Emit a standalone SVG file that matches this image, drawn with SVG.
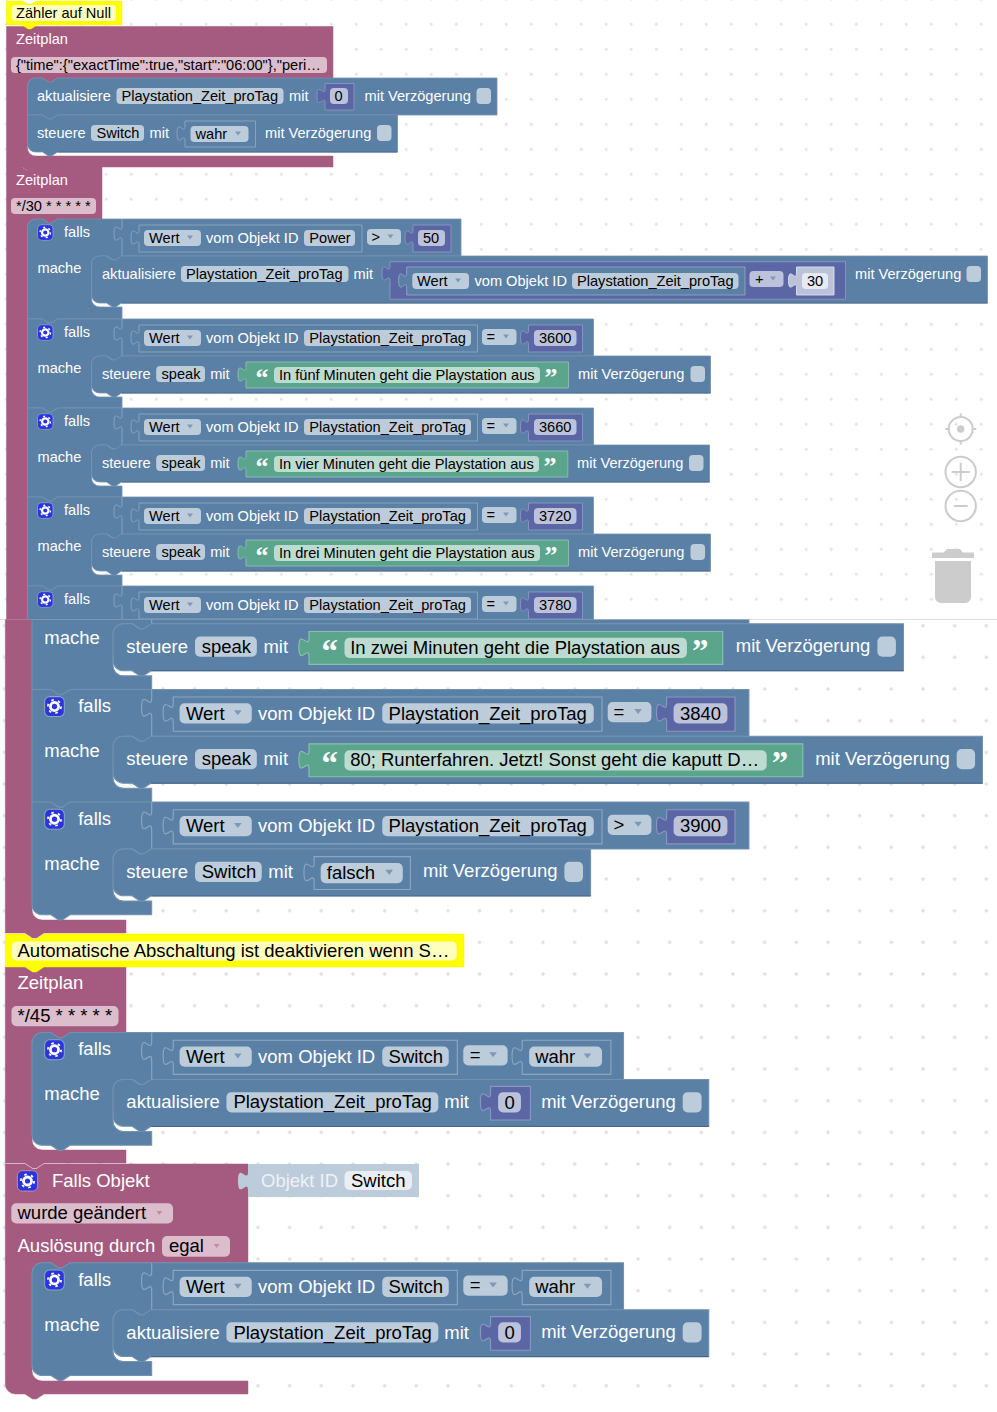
<svg xmlns="http://www.w3.org/2000/svg" width="997" height="1412" viewBox="0 0 997 1412">
<style>
text{font-family:"Liberation Sans",Arial,sans-serif;font-size:14.6px}
.t{fill:#fff}.f{fill:#000}
.b{fill:#5B80A5;stroke:#7391B0;stroke-width:.8}
.bv{fill:#5B80A5;stroke:#8CA6C0;stroke-width:.9}
.ln{fill:none;stroke:#8CA6C0;stroke-width:.9}
.dk{fill:none;stroke:#47668A;stroke-width:1}
.h{fill:#A55B80;stroke:#A55B80;stroke-width:.5}
.n{fill:#5B67A5;stroke:#8C95C0;stroke-width:.9}
.nl{fill:#BDC2DB;stroke:#DDE0ED;stroke-width:.9}
.g{fill:#5BA58C;stroke:#8CC0AE;stroke-width:.9}
.fd{fill:#BDCCDB}.fp{fill:#DBBDCC}.fn{fill:#BDC2DB}.fg{fill:#BDDBD1}.fy{fill:#FFFFBD}.fw{fill:#E8EAF3}
.y{fill:#FFFF00;stroke:#F0F000;stroke-width:.5}
.ar{fill:#7C99B7}.arp{fill:#C08CA6}
.ic{fill:#2B35DE;stroke:#8CA6C0;stroke-width:.8}
.q{font-family:"Liberation Serif",serif;font-weight:bold;font-size:26px;fill:#fff}
.ui{fill:#ccc}.uis{fill:none;stroke:#ccc;stroke-width:2}
</style>
<defs>
<pattern id="g1" patternUnits="userSpaceOnUse" x="4.3" y="22.3" width="25" height="25"><path d="M.5,2h3M2,.5v3" stroke="#d5d5d5" fill="none"/></pattern>
<pattern id="g2" patternUnits="userSpaceOnUse" x="1.6" y="622.7" width="31.67" height="31.67"><path d="M1,3h4M3,1v4" stroke="#d5d5d5" fill="none"/></pattern>
<clipPath id="ct"><rect x="0" y="0" width="997" height="619.5"/></clipPath>
<clipPath id="cb"><rect x="0" y="619.5" width="997" height="793"/></clipPath>
<path id="arr" d="M-3,-2h6l-3,4z"/>
<g id="gear"><rect class="ic" x="10" y="5.7" width="15.5" height="15.7" rx="4"/><circle cx="17.75" cy="13.5" r="5.2" fill="none" stroke="#fff" stroke-width="1.4" stroke-dasharray="2 3.44"/><circle cx="17.75" cy="13.5" r="3.2" fill="none" stroke="#fff" stroke-width="2.2"/></g>
<path id="slot" class="ln" d="M94.5,0V7c0,10 -8,-8 -8,7.5s8,-2.5 8,7.5V37"/>
<path id="fP" class="b" d="M0,0H15l6,4h3l6,-4H566V37H94.5l-6,4h-3l-6,-4H72a8,8 0 0 0 -8,8V70a8,8 0 0 0 8,8H94.5V89H30l-6,4h-3l-6,-4H0Z"/>
<g id="condP">
<use href="#slot"/>
<path class="bv" d="M111.5,6H450V33H111.5V26c0,-10 -8,8 -8,-7.5s8,2.5 8,-7.5Z"/>
<rect class="fd" x="116.5" y="11" width="57" height="16" rx="4"/><use href="#arr" class="ar" x="162.5" y="18.5"/>
<rect class="fd" x="276.5" y="11" width="167" height="16" rx="4"/>
<rect class="fd" x="454.5" y="10" width="34.5" height="16" rx="4"/><use href="#arr" class="ar" x="478.5" y="17.5"/>
<path class="n" d="M501,6H555V33H501V26c0,-10 -8,8 -8,-7.5s8,2.5 8,-7.5Z"/>
<rect class="fn" x="506.5" y="11" width="42.5" height="16" rx="4"/>
</g>
<g id="condS">
<use href="#slot"/>
<path class="bv" d="M111.5,6H335.8V33H111.5V26c0,-10 -8,8 -8,-7.5s8,2.5 8,-7.5Z"/>
<rect class="fd" x="116.5" y="11" width="57" height="16" rx="4"/><use href="#arr" class="ar" x="162.5" y="18.5"/>
<rect class="fd" x="276.5" y="11" width="52.5" height="16" rx="4"/>
<rect class="fd" x="340.5" y="10" width="35" height="16" rx="4"/><use href="#arr" class="ar" x="364" y="17.5"/>
<path class="bv" d="M387,6H457V33H387V26c0,-10 -8,8 -8,-7.5s8,2.5 8,-7.5Z"/>
<rect class="fd" x="392.5" y="11" width="57.5" height="16" rx="4"/><use href="#arr" class="ar" x="438.5" y="18.5"/>
</g>
<g id="aktB">
<path class="b" d="M0,8a8,8 0 0 1 8,-8h7l6,4h3l6,-4H470.3V37H30l-6,4h-3l-6,-4H8a8,8 0 0 1 -8,-8Z"/>
<path class="dk" d="M30,37H470.3"/>
<rect class="fd" x="89.5" y="10" width="167.3" height="16" rx="4"/>
<path class="n" d="M298,5.5H329.5V32H298V25.5c0,-10 -8,8 -8,-7.5s8,2.5 8,-7.5Z"/>
<rect class="fn" x="304" y="10" width="18" height="16" rx="4"/>
<rect class="fd" x="449.7" y="10" width="14.9" height="16" rx="4"/>
</g>
</defs>

<rect width="997" height="620" fill="#fff"/>
<rect width="997" height="619.5" fill="url(#g1)"/>
<rect y="619.5" width="997" height="793" fill="url(#g2)"/>
<path d="M0,619.5H997" stroke="#ddd" stroke-width="1"/>

<g id="workspace-controls">
<circle class="uis" cx="960.7" cy="429" r="12"/><circle class="ui" cx="960.7" cy="429" r="3.7"/><path class="uis" d="M960.7,413.5v4M960.7,440.5v4M945.3,429h4M972.3,429h4"/>
<circle class="uis" cx="960.7" cy="472" r="15.2"/><path class="uis" d="M951.7,472h18M960.7,463v18"/>
<circle class="uis" cx="960.7" cy="506" r="15.2"/><path class="uis" d="M953.7,506h14"/>
<path class="ui" d="M932,552.5h12l3,-3.5h13l3,3.5h11v5.5H932ZM935,561H971V597a6,6 0 0 1 -6,6H941a6,6 0 0 1 -6,-6Z"/>
</g>

<g id="top-shot" clip-path="url(#ct)">
<g id="hat1">
<path class="h" d="M6.5,26.5H333V78H57.5l-6,4h-3l-6,-4H35.5a8,8 0 0 0 -8,8V148a8,8 0 0 0 8,8H333V167H37l-6,4h-3l-6,-4H6.5Z"/>
<text class="t" x="16" y="44">Zeitplan</text>
<rect class="fp" x="11" y="57" width="316" height="16" rx="4"/>
<text class="f" x="16" y="70">{"time":{"exactTime":true,"start":"06:00"},"peri…</text>
</g>
<g id="hat2">
<path class="h" d="M6.5,167H21.5l6,4h3l6,-4H102V219H57.5l-6,4h-3l-6,-4H35.5a8,8 0 0 0 -8,8V625H6.5Z"/>
<text class="t" x="16" y="185">Zeitplan</text>
<rect class="fp" x="11" y="198" width="85" height="16" rx="4"/>
<text class="f" x="16" y="211">*/30 * * * * *</text>
</g>
<g id="comment1">
<path class="y" d="M6.5,1H22l6,3h3l6,-3H122V25H37l-6,4h-3l-6,-4H6.5Z"/>
<rect class="fy" x="11.7" y="5" width="104.3" height="16" rx="4"/>
<text class="f" x="16" y="18">Zähler auf Null</text>
</g>
<g id="akt1" transform="translate(27.5,78)">
<path class="b" d="M0,8a8,8 0 0 1 8,-8h7l6,4h3l6,-4H469.5V37H30l-6,4h-3l-6,-4H0Z"/>
<rect class="fd" x="89" y="10" width="167" height="16" rx="4"/>
<text class="t" x="9.5" y="22.5">aktualisiere</text><text class="f" x="94" y="22.5">Playstation_Zeit_proTag</text><text class="t" x="261.5" y="22.5">mit</text>
<path class="n" d="M297.5,5.5H326.5V32H297.5V25.5c0,-10 -8,8 -8,-7.5s8,2.5 8,-7.5Z"/>
<rect class="fn" x="302.5" y="10" width="18" height="16" rx="4"/><text class="f" x="307" y="23">0</text>
<text class="t" x="337" y="22.5">mit Verzögerung</text>
<rect class="fd" x="449" y="10" width="14.5" height="16" rx="4"/>
</g>
<g id="steuere1" transform="translate(27.5,115)">
<path class="b" d="M0,0H15l6,4h3l6,-4H370V37H30l-6,4h-3l-6,-4H8a8,8 0 0 1 -8,-8Z"/>
<path class="dk" d="M30,37H370"/>
<rect class="fd" x="63.5" y="10" width="53" height="16" rx="4"/>
<text class="t" x="9.5" y="22.5">steuere</text><text class="f" x="69" y="22.5">Switch</text><text class="t" x="122" y="22.5">mit</text>
<path class="bv" d="M157.5,6H228V32H157.5V26c0,-10 -8,8 -8,-7.5s8,2.5 8,-7.5Z"/>
<rect class="fd" x="163" y="11" width="58" height="16" rx="4"/><text class="f" x="168" y="24">wahr</text><use href="#arr" class="ar" x="210.5" y="18.5"/>
<text class="t" x="237.5" y="22.5">mit Verzögerung</text>
<rect class="fd" x="349.5" y="10" width="14.5" height="16" rx="4"/>
</g>

<g id="falls1" transform="translate(27.5,219)">
<path class="b" d="M0,8a8,8 0 0 1 8,-8h7l6,4h3l6,-4H433.5V37H94.5l-6,4h-3l-6,-4H72a8,8 0 0 0 -8,8V80a8,8 0 0 0 8,8H94.5V100H30l-6,4h-3l-6,-4H0Z"/>
<use href="#gear"/><use href="#slot"/>
<text class="t" x="36.5" y="18">falls</text><text class="t" x="10" y="54">mache</text>
<path class="bv" d="M111.5,6H334.5V33H111.5V26c0,-10 -8,8 -8,-7.5s8,2.5 8,-7.5Z"/>
<rect class="fd" x="116.5" y="11" width="57" height="16" rx="4"/><use href="#arr" class="ar" x="162.5" y="18.5"/>
<text class="f" x="121.5" y="24">Wert</text><text class="t" x="178.5" y="24">vom Objekt ID</text>
<rect class="fd" x="276.5" y="11" width="51" height="16" rx="4"/><text class="f" x="281.8" y="24">Power</text>
<rect class="fd" x="339.5" y="10" width="34" height="16" rx="4"/><text class="f" x="344" y="22.5">&gt;</text><use href="#arr" class="ar" x="363" y="17.5"/>
<path class="n" d="M385.5,6H423.5V33H385.5V26c0,-10 -8,8 -8,-7.5s8,2.5 8,-7.5Z"/>
<rect class="fn" x="390.5" y="11" width="27" height="16" rx="4"/><text class="f" x="395.5" y="24">50</text>
<g transform="translate(64,37)">
<path class="b" d="M0,8a8,8 0 0 1 8,-8h7l6,4h3l6,-4H896V47H30l-6,4h-3l-6,-4H8a8,8 0 0 1 -8,-8Z"/>
<path class="dk" d="M30,47H896"/>
<text class="t" x="10.5" y="22.7">aktualisiere</text>
<rect class="fd" x="89.5" y="10" width="167.5" height="16" rx="4"/><text class="f" x="94.5" y="22.7">Playstation_Zeit_proTag</text>
<text class="t" x="262" y="22.7">mit</text>
<path class="n" d="M298.5,5.7H754V43.3H298.5V25c0,-10 -8,8 -8,-7.5s8,2.5 8,-7.5Z"/>
<path class="bv" d="M315.2,11H653.5V39H315.2V32c0,-10 -8,8 -8,-7.5s8,2.5 8,-7.5Z"/>
<rect class="fd" x="320.8" y="17" width="56.7" height="16" rx="4"/><use href="#arr" class="ar" x="366.5" y="24.5"/>
<text class="f" x="325.5" y="30">Wert</text><text class="t" x="383" y="30">vom Objekt ID</text>
<rect class="fd" x="480.5" y="17" width="166.5" height="16" rx="4"/><text class="f" x="485.5" y="30">Playstation_Zeit_proTag</text>
<rect class="fn" x="658" y="15" width="34" height="16" rx="4"/><text class="f" x="663.5" y="28">+</text><use href="#arr" class="ar" x="681.5" y="22.5"/>
<path class="nl" d="M705,11H742.5V39H705V32c0,-10 -8,8 -8,-7.5s8,2.5 8,-7.5Z"/>
<rect class="fw" x="710.5" y="17" width="26" height="16" rx="4"/><text class="f" x="715.5" y="29.5">30</text>
<text class="t" x="763.5" y="23">mit Verzögerung</text>
<rect class="fd" x="875" y="10" width="14.5" height="16" rx="4"/>
</g>
</g>

<g id="falls2" transform="translate(27.5,319)">
<use href="#fP"/><use href="#gear"/><use href="#condP"/>
<text class="t" x="36.5" y="18">falls</text><text class="t" x="10" y="53.5">mache</text>
<text class="f" x="121.5" y="24">Wert</text><text class="t" x="178.5" y="24">vom Objekt ID</text><text class="f" x="281.8" y="24">Playstation_Zeit_proTag</text><text class="f" x="459" y="22.5">=</text><text class="f" x="511.5" y="24">3600</text>
<g transform="translate(64,37)">
<path class="b" d="M0,8a8,8 0 0 1 8,-8h7l6,4h3l6,-4H619V37H30l-6,4h-3l-6,-4H8a8,8 0 0 1 -8,-8Z"/>
<path class="dk" d="M30,37H619"/>
<text class="t" x="10.5" y="23">steuere</text><rect class="fd" x="64.7" y="10" width="48.8" height="16" rx="4"/><text class="f" x="70" y="23">speak</text><text class="t" x="118.7" y="23">mit</text>
<path class="g" d="M154.5,6H477V32H154.5V26c0,-10 -8,8 -8,-7.5s8,2.5 8,-7.5Z"/>
<text class="q" x="164" y="30">“</text><rect class="fg" x="182.5" y="11" width="266" height="16" rx="4"/><text class="f" x="187.5" y="23.5">In fünf Minuten geht die Playstation aus</text><text class="q" x="453" y="30">”</text>
<text class="t" x="486.5" y="22.5">mit Verzögerung</text><rect class="fd" x="599" y="10" width="14.5" height="16" rx="4"/>
</g>
</g>

<g id="falls3" transform="translate(27.5,408)">
<use href="#fP"/><use href="#gear"/><use href="#condP"/>
<text class="t" x="36.5" y="18">falls</text><text class="t" x="10" y="53.5">mache</text>
<text class="f" x="121.5" y="24">Wert</text><text class="t" x="178.5" y="24">vom Objekt ID</text><text class="f" x="281.8" y="24">Playstation_Zeit_proTag</text><text class="f" x="459" y="22.5">=</text><text class="f" x="511.5" y="24">3660</text>
<g transform="translate(64,37)">
<path class="b" d="M0,8a8,8 0 0 1 8,-8h7l6,4h3l6,-4H618V37H30l-6,4h-3l-6,-4H8a8,8 0 0 1 -8,-8Z"/>
<path class="dk" d="M30,37H618"/>
<text class="t" x="10.5" y="23">steuere</text><rect class="fd" x="64.7" y="10" width="48.8" height="16" rx="4"/><text class="f" x="70" y="23">speak</text><text class="t" x="118.7" y="23">mit</text>
<path class="g" d="M154.5,6H476.3V32H154.5V26c0,-10 -8,8 -8,-7.5s8,2.5 8,-7.5Z"/>
<text class="q" x="164" y="30">“</text><rect class="fg" x="182.5" y="11" width="265" height="16" rx="4"/><text class="f" x="187.5" y="23.5">In vier Minuten geht die Playstation aus</text><text class="q" x="452" y="30">”</text>
<text class="t" x="485.5" y="22.5">mit Verzögerung</text><rect class="fd" x="597.5" y="10" width="14.5" height="16" rx="4"/>
</g>
</g>

<g id="falls4" transform="translate(27.5,497)">
<use href="#fP"/><use href="#gear"/><use href="#condP"/>
<text class="t" x="36.5" y="18">falls</text><text class="t" x="10" y="53.5">mache</text>
<text class="f" x="121.5" y="24">Wert</text><text class="t" x="178.5" y="24">vom Objekt ID</text><text class="f" x="281.8" y="24">Playstation_Zeit_proTag</text><text class="f" x="459" y="22.5">=</text><text class="f" x="511.5" y="24">3720</text>
<g transform="translate(64,37)">
<path class="b" d="M0,8a8,8 0 0 1 8,-8h7l6,4h3l6,-4H619V37H30l-6,4h-3l-6,-4H8a8,8 0 0 1 -8,-8Z"/>
<path class="dk" d="M30,37H619"/>
<text class="t" x="10.5" y="23">steuere</text><rect class="fd" x="64.7" y="10" width="48.8" height="16" rx="4"/><text class="f" x="70" y="23">speak</text><text class="t" x="118.7" y="23">mit</text>
<path class="g" d="M154.5,6H477V32H154.5V26c0,-10 -8,8 -8,-7.5s8,2.5 8,-7.5Z"/>
<text class="q" x="164" y="30">“</text><rect class="fg" x="182.5" y="11" width="266" height="16" rx="4"/><text class="f" x="187.5" y="23.5">In drei Minuten geht die Playstation aus</text><text class="q" x="453" y="30">”</text>
<text class="t" x="486.5" y="22.5">mit Verzögerung</text><rect class="fd" x="599" y="10" width="14.5" height="16" rx="4"/>
</g>
</g>

<g id="falls5-head" transform="translate(27.5,586)">
<use href="#fP"/><use href="#gear"/><use href="#condP"/>
<text class="t" x="36.5" y="18">falls</text>
<text class="f" x="121.5" y="24">Wert</text><text class="t" x="178.5" y="24">vom Objekt ID</text><text class="f" x="281.8" y="24">Playstation_Zeit_proTag</text><text class="f" x="459" y="22.5">=</text><text class="f" x="511.5" y="24">3780</text>
</g>
</g>

<g id="bottom-shot" clip-path="url(#cb)">
<g id="hat2-lower"><path class="h" d="M5.3,619H32V910a10,10 0 0 0 10,10H126V933H44l-7.6,5h-3.8l-7.6,-5H5.3Z"/></g>

<g id="falls5" transform="translate(32,577) scale(1.2667)">
<use href="#fP"/><use href="#slot"/>
<text class="t" x="9.7" y="53">mache</text>
<g transform="translate(64,37)">
<path class="b" d="M0,8a8,8 0 0 1 8,-8h7l6,4h3l6,-4H624V37H30l-6,4h-3l-6,-4H8a8,8 0 0 1 -8,-8Z"/>
<path class="dk" d="M30,37H624"/>
<text class="t" x="10.5" y="23">steuere</text><rect class="fd" x="64.7" y="10" width="48.8" height="16" rx="4"/><text class="f" x="70" y="23">speak</text><text class="t" x="118.7" y="23">mit</text>
<path class="g" d="M154.7,6H481.3V32H154.7V26c0,-10 -8,8 -8,-7.5s8,2.5 8,-7.5Z"/>
<text class="q" x="164.5" y="30">“</text><rect class="fg" x="182.7" y="11" width="270.3" height="16" rx="4"/><text class="f" x="187.2" y="23.5">In zwei Minuten geht die Playstation aus</text><text class="q" x="457" y="30">”</text>
<text class="t" x="491.6" y="22.5">mit Verzögerung</text><rect class="fd" x="603.4" y="10" width="14.6" height="16" rx="4"/>
</g>
</g>

<g id="falls6" transform="translate(32,689.4) scale(1.2667)">
<use href="#fP"/><use href="#gear"/><use href="#condP"/>
<text class="t" x="36.5" y="18">falls</text><text class="t" x="9.7" y="53.5">mache</text>
<text class="f" x="121.5" y="24">Wert</text><text class="t" x="178.5" y="24">vom Objekt ID</text><text class="f" x="281.5" y="24">Playstation_Zeit_proTag</text><text class="f" x="459" y="22.5">=</text><text class="f" x="511.5" y="24">3840</text>
<g transform="translate(64,37)">
<path class="b" d="M0,8a8,8 0 0 1 8,-8h7l6,4h3l6,-4H686.4V37H30l-6,4h-3l-6,-4H8a8,8 0 0 1 -8,-8Z"/>
<path class="dk" d="M30,37H686.4"/>
<text class="t" x="10.5" y="23">steuere</text><rect class="fd" x="64.7" y="10" width="48.8" height="16" rx="4"/><text class="f" x="70" y="23">speak</text><text class="t" x="118.7" y="23">mit</text>
<path class="g" d="M154.7,6H544.5V32H154.7V26c0,-10 -8,8 -8,-7.5s8,2.5 8,-7.5Z"/>
<text class="q" x="164.5" y="30">“</text><rect class="fg" x="182.7" y="11" width="333.3" height="16" rx="4"/><text class="f" x="187.2" y="23.5">80; Runterfahren. Jetzt! Sonst geht die kaputt D…</text><text class="q" x="520" y="30">”</text>
<text class="t" x="554.3" y="22.5">mit Verzögerung</text><rect class="fd" x="666" y="10" width="14.5" height="16" rx="4"/>
</g>
</g>

<g id="falls7" transform="translate(32,802.1) scale(1.2667)">
<path class="b" d="M0,0H15l6,4h3l6,-4H566V37H94.5l-6,4h-3l-6,-4H72a8,8 0 0 0 -8,8V70a8,8 0 0 0 8,8H94.5V89H30l-6,4h-3l-6,-4H8a8,8 0 0 1 -8,-8Z"/>
<use href="#gear"/><use href="#condP"/>
<text class="t" x="36.5" y="18">falls</text><text class="t" x="9.7" y="53.5">mache</text>
<text class="f" x="121.5" y="24">Wert</text><text class="t" x="178.5" y="24">vom Objekt ID</text><text class="f" x="281.5" y="24">Playstation_Zeit_proTag</text><text class="f" x="459" y="22.5">&gt;</text><text class="f" x="511.5" y="24">3900</text>
<g transform="translate(64,37)">
<path class="b" d="M0,8a8,8 0 0 1 8,-8h7l6,4h3l6,-4H377V37H30l-6,4h-3l-6,-4H8a8,8 0 0 1 -8,-8Z"/>
<path class="dk" d="M30,37H377"/>
<text class="t" x="10.5" y="23">steuere</text><rect class="fd" x="64.7" y="10" width="52.7" height="16" rx="4"/><text class="f" x="70" y="23">Switch</text><text class="t" x="122.6" y="23">mit</text>
<path class="bv" d="M158.7,6H234.7V32H158.7V26c0,-10 -8,8 -8,-7.5s8,2.5 8,-7.5Z"/>
<rect class="fd" x="163.9" y="11" width="64.8" height="16" rx="4"/><text class="f" x="168.7" y="23.5">falsch</text><use href="#arr" class="ar" x="218" y="18.5"/>
<text class="t" x="244.7" y="22.5">mit Verzögerung</text><rect class="fd" x="356.3" y="10" width="14.7" height="16" rx="4"/>
</g>
</g>

<g id="hat3">
<path class="h" d="M5.3,967H126V1033H70l-7.6,5h-3.8l-7.6,-5H42a10,10 0 0 0 -10,10V1140a10,10 0 0 0 10,10H126V1163H44l-7.6,5h-3.8l-7.6,-5H5.3Z"/>
<text class="t" style="font-size:18.5px" x="17.5" y="989">Zeitplan</text>
<rect class="fp" x="11.5" y="1006" width="107" height="20.3" rx="5"/>
<text class="f" style="font-size:18.5px" x="17.5" y="1022">*/45 * * * * *</text>
</g>
<g id="comment2">
<path class="y" d="M5.3,934H25l7.6,5h3.8l7.6,-5H464V967H44l-7.6,5h-3.8l-7.6,-5H5.3Z"/>
<rect class="fy" x="11.7" y="941.5" width="445" height="19" rx="5"/>
<text class="f" style="font-size:18.5px" x="17.5" y="957">Automatische Abschaltung ist deaktivieren wenn S…</text>
</g>

<g id="falls8" transform="translate(32,1032.6) scale(1.2667)">
<path class="b" d="M0,8a8,8 0 0 1 8,-8h7l6,4h3l6,-4H467V37H94.5l-6,4h-3l-6,-4H72a8,8 0 0 0 -8,8V70a8,8 0 0 0 8,8H94.5V89H30l-6,4h-3l-6,-4H8a8,8 0 0 1 -8,-8Z"/>
<use href="#gear"/><use href="#condS"/>
<text class="t" x="36.5" y="18">falls</text><text class="t" x="9.7" y="53.5">mache</text>
<text class="f" x="121.5" y="24">Wert</text><text class="t" x="178.5" y="24">vom Objekt ID</text><text class="f" x="281.5" y="24">Switch</text><text class="f" x="345.5" y="22.5">=</text><text class="f" x="397.2" y="24">wahr</text>
<g transform="translate(64,37)">
<use href="#aktB"/>
<text class="t" x="10.5" y="22.8">aktualisiere</text><text class="f" x="95" y="22.8">Playstation_Zeit_proTag</text><text class="t" x="261.5" y="22.8">mit</text><text class="f" x="309" y="23">0</text><text class="t" x="338" y="22.5">mit Verzögerung</text>
</g>
</g>

<g id="hat4">
<path class="h" d="M5.3,1164H25l7.6,5h3.8l7.6,-5H248V1262.7H70l-7.6,5h-3.8l-7.6,-5H42a10,10 0 0 0 -10,10V1371a10,10 0 0 0 10,10H248V1394H44l-7.6,5h-3.8l-7.6,-5H15.3a10,10 0 0 1 -10,-10Z"/>
<rect x="17.3" y="1170.7" width="20.4" height="20.4" rx="5" fill="#2B35DE" stroke="#C08CA6"/>
<circle cx="27.5" cy="1181" r="6.6" fill="none" stroke="#fff" stroke-width="1.8" stroke-dasharray="2.6 4.3"/><circle cx="27.5" cy="1181" r="4" fill="none" stroke="#fff" stroke-width="2.8"/>
<text class="t" style="font-size:18.5px" x="52" y="1186.7">Falls Objekt</text>
<rect class="fp" x="11.3" y="1203.3" width="161.7" height="20.2" rx="5"/>
<text class="f" style="font-size:18.5px" x="17.5" y="1219">wurde geändert</text><use href="#arr" class="arp" x="159.3" y="1213"/>
<text class="t" style="font-size:18.5px" x="17.5" y="1251.7">Auslösung durch</text>
<rect class="fp" x="162" y="1236" width="68" height="20.7" rx="5"/>
<text class="f" style="font-size:18.5px" x="169" y="1252">egal</text><use href="#arr" class="arp" x="216.7" y="1246"/>
</g>
<g id="objectid">
<path fill="#BDCCDB" d="M248,1164H419V1197H248V1190.5c0,-12.7 -10,10 -10,-9.5s10,3.2 10,-9.5Z"/>
<text fill="#EEF2F6" style="font-size:18.5px" x="261" y="1187">Objekt ID</text>
<rect fill="#E8EEF4" x="344.5" y="1171" width="67.5" height="19" rx="5"/>
<text class="f" style="font-size:18.5px" x="351" y="1187">Switch</text>
</g>

<g id="falls9" transform="translate(32,1262.8) scale(1.2667)">
<path class="b" d="M0,8a8,8 0 0 1 8,-8h7l6,4h3l6,-4H467V37H94.5l-6,4h-3l-6,-4H72a8,8 0 0 0 -8,8V70a8,8 0 0 0 8,8H94.5V89H30l-6,4h-3l-6,-4H8a8,8 0 0 1 -8,-8Z"/>
<use href="#gear"/><use href="#condS"/>
<text class="t" x="36.5" y="18">falls</text><text class="t" x="9.7" y="53.5">mache</text>
<text class="f" x="121.5" y="24">Wert</text><text class="t" x="178.5" y="24">vom Objekt ID</text><text class="f" x="281.5" y="24">Switch</text><text class="f" x="345.5" y="22.5">=</text><text class="f" x="397.2" y="24">wahr</text>
<g transform="translate(64,37)">
<use href="#aktB"/>
<text class="t" x="10.5" y="22.8">aktualisiere</text><text class="f" x="95" y="22.8">Playstation_Zeit_proTag</text><text class="t" x="261.5" y="22.8">mit</text><text class="f" x="309" y="23">0</text><text class="t" x="338" y="22.5">mit Verzögerung</text>
</g>
</g>
</g>
</svg>
